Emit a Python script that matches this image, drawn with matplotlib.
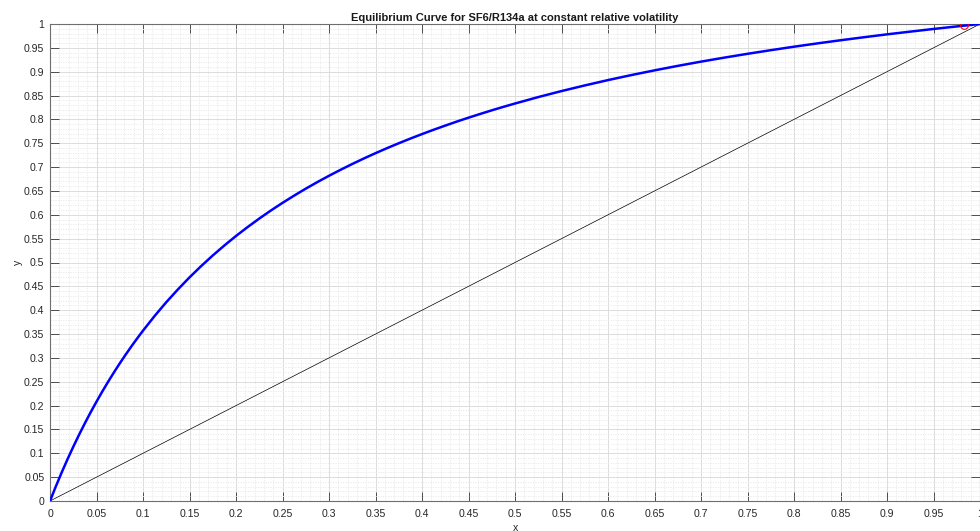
import matplotlib
matplotlib.use("Agg")
import matplotlib.pyplot as plt
from matplotlib.ticker import MultipleLocator

# Equilibrium curve values
x_eq = [0, 0.00625, 0.0125, 0.01875, 0.025, 0.03125, 0.0375, 0.04375, 0.05, 0.05625,
        0.0625, 0.06875, 0.075, 0.08125, 0.0875, 0.09375, 0.1, 0.1125, 0.125, 0.1375,
        0.15, 0.1625, 0.175, 0.1875, 0.2, 0.2125, 0.225, 0.2375, 0.25, 0.2625, 0.275, 0.2875,
        0.3, 0.3125, 0.325, 0.3375, 0.35, 0.3625, 0.375, 0.3875, 0.4, 0.4125, 0.425, 0.4375,
        0.45, 0.4625, 0.475, 0.4875, 0.5, 0.525, 0.55, 0.575, 0.6, 0.625, 0.65, 0.675,
        0.7, 0.725, 0.75, 0.775, 0.8, 0.825, 0.85, 0.875, 0.9, 0.925, 0.95, 0.975, 1.0]
y_eq = [0, 0.0305, 0.0595, 0.0872, 0.1136, 0.1389, 0.1630, 0.1862, 0.2083, 0.2296,
        0.2500, 0.2696, 0.2885, 0.3066, 0.3241, 0.3409, 0.3571, 0.3879, 0.4167, 0.4435,
        0.4688, 0.4924, 0.5147, 0.5357, 0.5556, 0.5743, 0.5921, 0.6090, 0.6250, 0.6402, 0.6548, 0.6686,
        0.6818, 0.6944, 0.7065, 0.7181, 0.7292, 0.7398, 0.7500, 0.7598, 0.7692, 0.7783, 0.7870, 0.7955,
        0.8036, 0.8114, 0.8190, 0.8263, 0.8333, 0.8468, 0.8594, 0.8712, 0.8824, 0.8929, 0.9028, 0.9122,
        0.9211, 0.9295, 0.9375, 0.9451, 0.9524, 0.9593, 0.9659, 0.9722, 0.9783, 0.9840, 0.9896, 0.9949, 1.0]

# 45-degree reference line
x_diag = [0, 1]
y_diag = [0, 1]

# marked point
x_pt = [0.983]
y_pt = [0.997]

title = "Equilibrium Curve for SF6/R134a at constant relative volatility"
xlabel = "x"
ylabel = "y"

plt.rcParams['font.family'] = ['Liberation Sans', 'DejaVu Sans']

fig = plt.figure(figsize=(9.8, 5.31), dpi=100)
fig.patch.set_facecolor('white')
ax = fig.add_axes([50/980, 30/531, 930/980, 477/531])

ax.plot(x_diag, y_diag, color='black', linewidth=0.5, zorder=3)
ax.plot(x_eq, y_eq, color='#0000ff', linewidth=1.8, zorder=4,
        solid_joinstyle='round', solid_capstyle='round')
ax.plot(x_pt, y_pt, 'o', markerfacecolor='none', markeredgecolor='#ff0000',
        markersize=5.5, markeredgewidth=0.8, zorder=5)

ax.set_xlim(0, 1)
ax.set_ylim(0, 1)
ax.xaxis.set_major_locator(MultipleLocator(0.05))
ax.yaxis.set_major_locator(MultipleLocator(0.05))
ax.xaxis.set_minor_locator(MultipleLocator(0.01))
ax.yaxis.set_minor_locator(MultipleLocator(0.01))

def fmt(v, pos):
    return f"{v:.2f}".rstrip('0').rstrip('.')
ax.xaxis.set_major_formatter(plt.FuncFormatter(fmt))
ax.yaxis.set_major_formatter(plt.FuncFormatter(fmt))

ax.grid(which='major', color='#dcdcdc', linewidth=0.7, linestyle='-')
ax.grid(which='minor', color='#e8e8e8', linewidth=0.6, linestyle=(0, (1.5, 1.5)))
ax.set_axisbelow(True)

ax.tick_params(which='major', direction='in', length=6.5, width=0.7, color='#4d4d4d',
               top=True, right=True, labelsize=7.6, labelcolor='#262626', pad=4)
ax.tick_params(axis='x', which='major', pad=5.5)
ax.tick_params(which='minor', length=0, top=True, right=True)
for sp in ax.spines.values():
    sp.set_color('#6e6e6e')
    sp.set_linewidth(0.8)

ax.set_title(title, fontsize=8, fontweight='bold', color='#1a1a1a', pad=2.5)
ax.set_xlabel(xlabel, fontsize=7.6, color='#262626', labelpad=3)
ax.set_ylabel(ylabel, fontsize=7.6, color='#262626', labelpad=1)

fig.savefig("out.png", dpi=100, facecolor='white')
